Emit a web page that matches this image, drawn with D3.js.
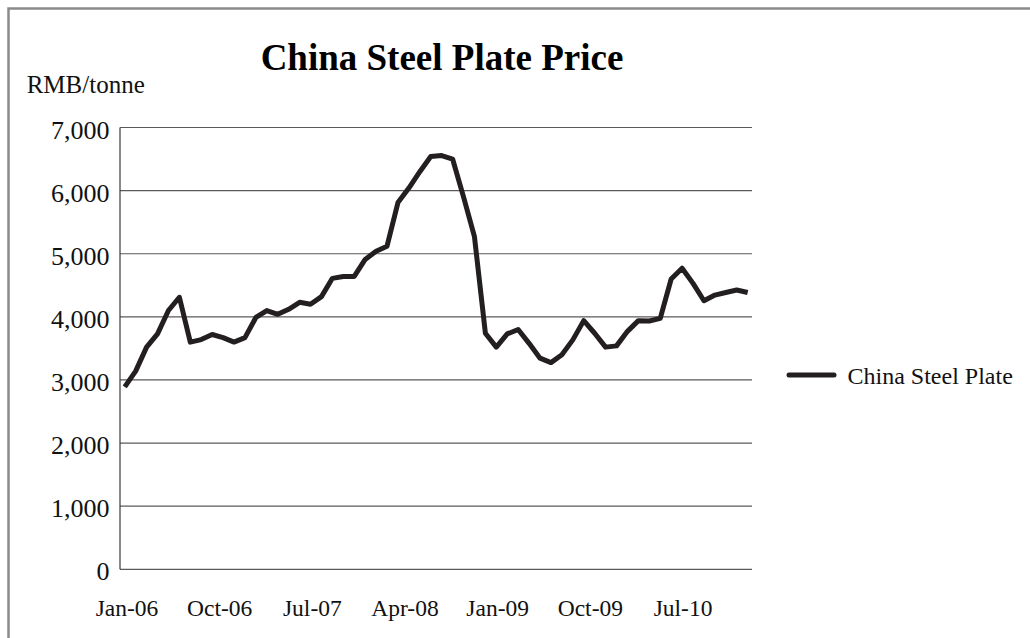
<!DOCTYPE html>
<html>
<head>
<meta charset="utf-8">
<script src="https://cdn.jsdelivr.net/npm/d3@7"></script>
<style>
  html, body { margin: 0; padding: 0; background: #fff; }
  svg { display: block; font-family: "Liberation Serif", "Times New Roman", serif; }
</style>
</head>
<body>
<svg id="chart" width="1030" height="638"></svg>
<script>
// ---- data ----
const seriesName = "China Steel Plate";
const prices = [
  2890, 3140, 3520, 3730, 4100, 4310, 3600, 3640, 3720, 3670,
  3600, 3670, 3990, 4100, 4040, 4120, 4230, 4200, 4320, 4610,
  4640, 4640, 4910, 5040, 5120, 5810, 6040, 6300, 6540, 6555,
  6500, 5900, 5270, 3740, 3520, 3730, 3800, 3580, 3345, 3275,
  3400, 3635, 3940, 3740, 3520, 3540, 3770, 3940, 3935, 3975,
  4600, 4770, 4530, 4255, 4345, 4385, 4425, 4385
];
const tickLabels = ["Jan-06", "Oct-06", "Jul-07", "Apr-08", "Jan-09", "Oct-09", "Jul-10"];
const tickMonths = [0, 9, 18, 27, 36, 45, 54];   // months since Jan-06
const yTicks = [0, 1000, 2000, 3000, 4000, 5000, 6000, 7000];

// ---- layout ----
const svg = d3.select("#chart");
const plot = { left: 120, right: 752, top: 127.5, bottom: 569.3 };

// frame
svg.append("path")
  .attr("d", "M8.5,640 L8.5,8.5 L1040,8.5")
  .attr("fill", "none").attr("stroke", "#8a8a8a").attr("stroke-width", 2.5);

const x = d3.scaleLinear().domain([-0.68, 60.70]).range([plot.left, plot.right]);
const pointMonth = d3.scaleLinear().domain([0, prices.length - 1]).range([-0.22, 60.28]);
const y = d3.scaleLinear().domain([0, 7000]).range([plot.bottom, plot.top]);

// gridlines
svg.append("g").selectAll("line").data(yTicks).join("line")
  .attr("x1", plot.left).attr("x2", plot.right)
  .attr("y1", d => y(d)).attr("y2", d => y(d))
  .attr("stroke", "#5a5a5a").attr("stroke-width", 1.2);

// y axis line
svg.append("line")
  .attr("x1", plot.left).attr("x2", plot.left)
  .attr("y1", y(7000)).attr("y2", y(0))
  .attr("stroke", "#3a3a3a").attr("stroke-width", 1.2);

// y tick labels
const fmt = d3.format(",");
svg.append("g").selectAll("text").data(yTicks).join("text")
  .attr("x", 109.5).attr("y", d => y(d) + 11)
  .attr("text-anchor", "end")
  .attr("font-size", 26).attr("fill", "#111")
  .text(d => fmt(d));

// x tick labels
svg.append("g").selectAll("text").data(tickLabels).join("text")
  .attr("x", (d, i) => x(tickMonths[i]))
  .attr("y", 615.5)
  .attr("text-anchor", "middle")
  .attr("font-size", 23.5).attr("fill", "#111")
  .text(d => d);

// line
const line = d3.line()
  .x((d, i) => x(pointMonth(i)))
  .y(d => y(d));
svg.append("path")
  .datum(prices)
  .attr("d", line)
  .attr("fill", "none")
  .attr("stroke", "#231f20")
  .attr("stroke-width", 5)
  .attr("stroke-linejoin", "round");

// title
svg.append("text")
  .attr("x", 442).attr("y", 70)
  .attr("text-anchor", "middle")
  .attr("font-size", 37).attr("font-weight", "bold").attr("fill", "#000")
  .text("China Steel Plate Price");

// unit label
svg.append("text")
  .attr("x", 26.7).attr("y", 92.5)
  .attr("font-size", 25).attr("fill", "#111")
  .text("RMB/tonne");

// legend
svg.append("line")
  .attr("x1", 789).attr("x2", 834)
  .attr("y1", 375).attr("y2", 375)
  .attr("stroke", "#231f20").attr("stroke-width", 5)
  .attr("stroke-linecap", "round");
svg.append("text")
  .attr("x", 847.5).attr("y", 384)
  .attr("font-size", 24).attr("fill", "#111")
  .text(seriesName);
</script>
</body>
</html>
